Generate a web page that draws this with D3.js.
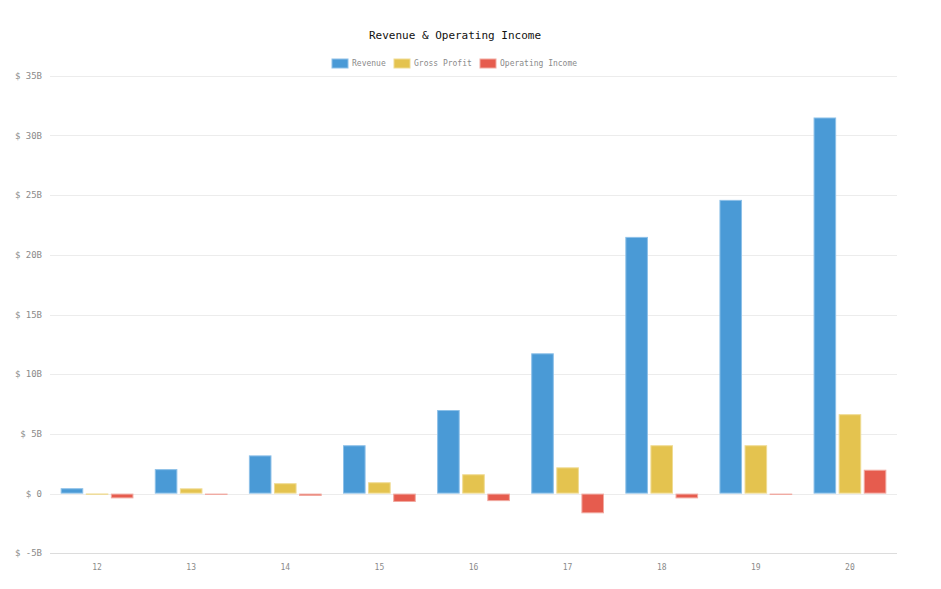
<!DOCTYPE html>
<html>
<head>
<meta charset="utf-8">
<script src="https://cdn.jsdelivr.net/npm/d3@7"></script>
<style>
  body { margin: 0; background: #fff; }
  text { font-family: "DejaVu Sans Mono", monospace; }
</style>
</head>
<body>
<div class="chart"></div>
<script>
var years = ["12", "13", "14", "15", "16", "17", "18", "19", "20"];
var seriesNames = ["Revenue", "Gross Profit", "Operating Income"];
var revenue = [0.45, 2.05, 3.2, 4.05, 7.0, 11.75, 21.5, 24.6, 31.5];
var grossProfit = [0.01, 0.44, 0.87, 0.95, 1.62, 2.2, 4.05, 4.05, 6.65];
var operatingIncome = [-0.4, -0.1, -0.2, -0.7, -0.63, -1.65, -0.4, -0.1, 2.0];
var yTicks = [-5, 0, 5, 10, 15, 20, 25, 30, 35];

var colors = ["#4a9ad6", "#e4c34f", "#e65c4e"];
var borders = ["#8dc0e8", "#efdb93", "#f1a9a0"];

var width = 941, height = 589;
var margin = { top: 75.7, right: 44, bottom: 35.7, left: 50 };

var svg = d3.select(".chart").append("svg")
    .attr("width", width)
    .attr("height", height);

var x0 = d3.scaleBand()
    .domain(years)
    .range([margin.left, width - margin.right])
    .paddingInner(0.2)
    .paddingOuter(0.1);

var slot = x0.bandwidth() / seriesNames.length;
var barW = slot * 0.9;

var y = d3.scaleLinear()
    .domain([-5, 35])
    .range([height - margin.bottom, margin.top]);

// grid
svg.append("g")
  .selectAll("line")
  .data(yTicks)
  .enter().append("line")
    .attr("x1", margin.left)
    .attr("x2", width - margin.right)
    .attr("y1", function(d) { return Math.round(y(d)) + 0.5; })
    .attr("y2", function(d) { return Math.round(y(d)) + 0.5; })
    .attr("stroke", function(d) { return d === -5 ? "#dcdcdc" : "#ececec"; })
    .attr("stroke-width", 1);

// y labels
svg.append("g")
  .selectAll("text")
  .data(yTicks)
  .enter().append("text")
    .attr("x", margin.left - 8)
    .attr("y", function(d) { return y(d); })
    .attr("dy", "0.35em")
    .attr("text-anchor", "end")
    .attr("font-size", 9)
    .attr("fill", "#8a8a8a")
    .text(function(d) { return "$ " + d + (d === 0 ? "" : "B"); });

// x labels
svg.append("g")
  .selectAll("text")
  .data(years)
  .enter().append("text")
    .attr("x", function(d) { return x0(d) + x0.bandwidth() / 2; })
    .attr("y", height - margin.bottom + 17)
    .attr("text-anchor", "middle")
    .attr("font-size", 8)
    .attr("fill", "#8a8a8a")
    .text(function(d) { return d; });

// bars
var series = [revenue, grossProfit, operatingIncome];
series.forEach(function(values, si) {
  svg.append("g")
    .selectAll("rect")
    .data(values)
    .enter().append("rect")
      .attr("x", function(d, i) { return x0(years[i]) + si * slot + (slot - barW) / 2 + 0.5; })
      .attr("y", function(d) { return Math.min(y(d), y(0)) + 0.5; })
      .attr("width", barW - 1)
      .attr("height", function(d) { return Math.max(Math.abs(y(d) - y(0)) - 1, 0.3); })
      .attr("fill", colors[si])
      .attr("stroke", borders[si])
      .attr("stroke-width", 1);
});

// title
svg.append("text")
    .attr("x", 455)
    .attr("y", 39)
    .attr("text-anchor", "middle")
    .attr("font-size", 11)
    .attr("fill", "#111")
    .text("Revenue & Operating Income");

// legend
var legendX = [332, 394, 480];
var legend = svg.append("g")
  .selectAll("g")
  .data(seriesNames)
  .enter().append("g")
    .attr("transform", function(d, i) { return "translate(" + legendX[i] + ",59)"; });

legend.append("rect")
    .attr("width", 16)
    .attr("height", 9)
    .attr("fill", function(d, i) { return colors[i]; })
    .attr("stroke", function(d, i) { return borders[i]; })
    .attr("stroke-width", 1);

legend.append("text")
    .attr("x", 20)
    .attr("y", 4.5)
    .attr("dy", "0.35em")
    .attr("font-size", 8)
    .attr("fill", "#8a8a8a")
    .text(function(d) { return d; });
</script>
</body>
</html>
